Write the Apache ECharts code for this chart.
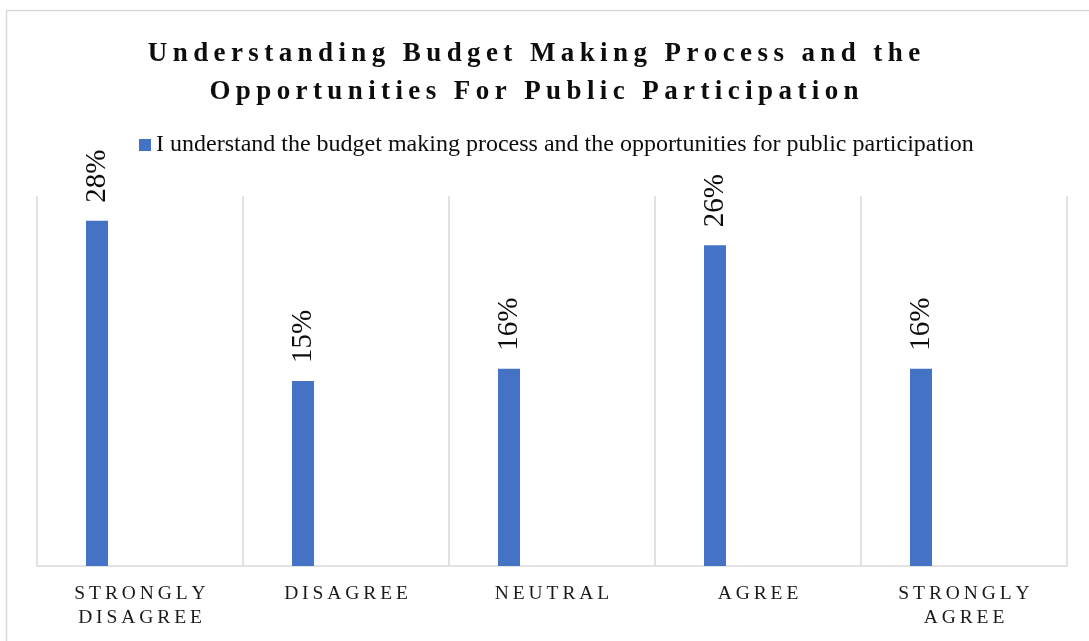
<!DOCTYPE html>
<html>
<head>
<meta charset="utf-8">
<title>Understanding Budget Making Process</title>
<script src="https://cdn.jsdelivr.net/npm/echarts@6/dist/echarts.min.js"></script>
<style>
  html, body { margin: 0; padding: 0; background: #fff; }
  #chart { width: 1089px; height: 641px; }
</style>
</head>
<body>
<div id="chart"></div>
<script>
// Survey responses
const categories = ['STRONGLY\nDISAGREE', 'DISAGREE', 'NEUTRAL', 'AGREE', 'STRONGLY\nAGREE'];
const shares = [28, 15, 16, 26, 16];
const seriesName = 'I understand the budget making process and the opportunities for public participation';
const titleText = 'Understanding Budget Making Process and the\nOpportunities For Public Participation';

const SERIF = "'Liberation Serif', 'Times New Roman', serif";
const THIN = '\u2009';

// spread the letters of each line apart
function spaced(str, gap) {
  return str.split('\n').map(line => line.split('').join(gap)).join('\n');
}

const chart = echarts.init(document.getElementById('chart'), null, { renderer: 'canvas' });

chart.setOption({
  backgroundColor: '#fff',
  animation: false,
  graphic: [{
    type: 'rect',
    shape: { x: 6.5, y: 10.5, width: 1200, height: 800 },
    style: { fill: 'none', stroke: '#d9d9d9', lineWidth: 1.5 },
    silent: true
  }],
  title: {
    text: spaced(titleText, THIN),
    left: 534,
    top: 35,
    padding: 0,
    textAlign: 'center',
    textStyle: {
      fontFamily: SERIF,
      fontWeight: 'bold',
      fontSize: 27,
      lineHeight: 38,
      color: '#0d0d0d'
    }
  },
  legend: {
    data: [seriesName],
    left: 139,
    top: 133,
    padding: 0,
    itemWidth: 12,
    itemHeight: 12,
    itemGap: 5,
    icon: 'rect',
    textStyle: {
      fontFamily: SERIF,
      fontSize: 24,
      color: '#0d0d0d'
    }
  },
  grid: { left: 37, right: 22, top: 196, bottom: 75, containLabel: false },
  xAxis: {
    type: 'category',
    data: categories,
    axisLine: { show: true, lineStyle: { color: '#d9d9d9', width: 1.5 } },
    axisTick: { show: false },
    splitLine: { show: true, lineStyle: { color: '#d9d9d9', width: 1.5 } },
    axisLabel: {
      margin: 16,
      interval: 0,
      fontFamily: SERIF,
      fontSize: 19.5,
      lineHeight: 24,
      color: '#1a1a1a',
      formatter: v => spaced(v, THIN)
    }
  },
  yAxis: {
    type: 'value',
    min: 0,
    max: 30,
    show: false,
    splitLine: { show: false }
  },
  series: [
    {
      name: seriesName,
      type: 'bar',
      data: shares,
      barWidth: 22,
      barGap: '291%',
      itemStyle: { color: '#4472c4' },
      label: {
        show: true,
        position: 'top',
        rotate: 90,
        align: 'left',
        verticalAlign: 'middle',
        distance: 18,
        fontFamily: SERIF,
        fontSize: 29,
        color: '#0d0d0d',
        formatter: '{c}%'
      }
    },
    {
      // empty companion series that keeps each bar left of its band centre
      name: 'spacer',
      type: 'bar',
      data: [],
      barWidth: 22,
      silent: true
    }
  ]
});
</script>
</body>
</html>
